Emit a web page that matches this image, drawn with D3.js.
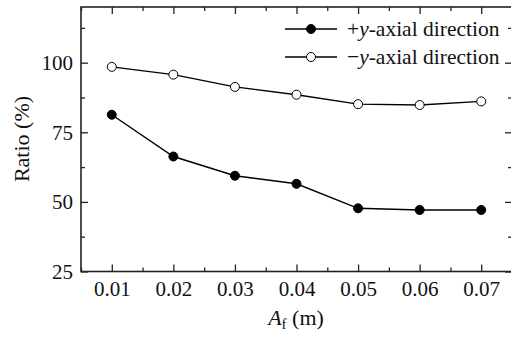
<!DOCTYPE html>
<html>
<head>
<meta charset="utf-8">
<script src="https://cdn.jsdelivr.net/npm/d3@7"></script>
</head>
<body style="margin:0">
<svg id="chart" width="511" height="338" style="font-family: 'Liberation Serif', 'Times New Roman', Tinos, serif"></svg>
<script>
// data
const afValues = [0.01, 0.02, 0.03, 0.04, 0.05, 0.06, 0.07];
const plusY = [81.3, 66.3, 59.4, 56.5, 47.7, 47.1, 47.1];
const minusY = [98.5, 95.7, 91.3, 88.5, 85.1, 84.8, 86.1];
const yTicks = [25, 50, 75, 100];
const yMinor = [37.5, 62.5, 87.5, 112.5];
const xMinor = [0.005, 0.015, 0.025, 0.035, 0.045, 0.055, 0.065, 0.075];

const width = 511, height = 338;
const margin = {top: 7, right: -1, bottom: 66.5, left: 81};
const svg = d3.select("#chart");

const x = d3.scaleLinear().domain([0.005, 0.075]).range([margin.left, width - margin.right]);
const y = d3.scaleLinear().domain([25, 120]).range([height - margin.bottom, margin.top]);
const x0 = margin.left, x1 = width - margin.right;
const y0 = height - margin.bottom, y1 = margin.top;

const axisColor = "#222";

// major + minor ticks on all four sides, pointing inward
function styleAxis(g) {
  g.attr("font-family", null).attr("font-size", null);
  g.select(".domain").remove();
  g.selectAll("line").attr("stroke", axisColor).attr("stroke-width", 1.3);
  g.selectAll("text").style("font-size", "21px").attr("fill", "#111");
}

svg.append("g").attr("transform", `translate(0,${y0})`)
  .call(d3.axisBottom(x).tickValues(afValues).tickFormat(d3.format(".2f")).tickSize(-7).tickPadding(10))
  .call(styleAxis);
svg.append("g").attr("transform", `translate(0,${y0})`)
  .call(d3.axisBottom(x).tickValues(xMinor).tickFormat("").tickSize(-4))
  .call(styleAxis);
svg.append("g").attr("transform", `translate(0,${y1})`)
  .call(d3.axisTop(x).tickValues(afValues).tickFormat("").tickSize(-7))
  .call(styleAxis);
svg.append("g").attr("transform", `translate(0,${y1})`)
  .call(d3.axisTop(x).tickValues(xMinor).tickFormat("").tickSize(-4))
  .call(styleAxis);

svg.append("g").attr("transform", `translate(${x0},0)`)
  .call(d3.axisLeft(y).tickValues(yTicks).tickSize(-7).tickPadding(8))
  .call(styleAxis);
svg.append("g").attr("transform", `translate(${x0},0)`)
  .call(d3.axisLeft(y).tickValues(yMinor).tickFormat("").tickSize(-4))
  .call(styleAxis);
svg.append("g").attr("transform", `translate(${x1},0)`)
  .call(d3.axisRight(y).tickValues(yTicks).tickFormat("").tickSize(-7))
  .call(styleAxis);
svg.append("g").attr("transform", `translate(${x1},0)`)
  .call(d3.axisRight(y).tickValues(yMinor).tickFormat("").tickSize(-4))
  .call(styleAxis);

// frame
svg.append("rect")
  .attr("x", x0).attr("y", y1)
  .attr("width", x1 - x0).attr("height", y0 - y1)
  .attr("fill", "none").attr("stroke", axisColor).attr("stroke-width", 1.6);

// series
const series = [
  {name: "+", values: plusY, fill: "#000"},
  {name: "\u2212", values: minusY, fill: "#fff"}
];

const line = d3.line()
  .x((d, i) => x(afValues[i]))
  .y(d => y(d));

series.forEach(s => {
  svg.append("path")
    .datum(s.values)
    .attr("fill", "none")
    .attr("stroke", "#000")
    .attr("stroke-width", 1.4)
    .attr("d", line);
  svg.append("g").selectAll("circle")
    .data(s.values)
    .join("circle")
    .attr("cx", (d, i) => x(afValues[i]))
    .attr("cy", d => y(d))
    .attr("r", 4.5)
    .attr("fill", s.fill)
    .attr("stroke", "#000")
    .attr("stroke-width", 1);
});

// legend
const legend = svg.append("g");
series.forEach((s, i) => {
  const ly = 29 + i * 28;
  legend.append("line")
    .attr("x1", 285).attr("x2", 337)
    .attr("y1", ly).attr("y2", ly)
    .attr("stroke", "#000").attr("stroke-width", 1.4);
  legend.append("circle")
    .attr("cx", 311).attr("cy", ly).attr("r", 4.5)
    .attr("fill", s.fill).attr("stroke", "#000").attr("stroke-width", 1);
  const t = legend.append("text")
    .attr("x", 347).attr("y", ly + 7)
    .style("font-size", "21.5px")
    .attr("fill", "#111");
  t.append("tspan").text(s.name);
  t.append("tspan").style("font-style", "italic").text("y");
  t.append("tspan").text("-axial direction");
});

// axis titles
const xt = svg.append("text")
  .attr("x", 296).attr("y", 325)
  .attr("text-anchor", "middle")
  .style("font-size", "22px")
  .attr("fill", "#111");
xt.append("tspan").style("font-style", "italic").text("A");
xt.append("tspan").style("font-size", "15px").attr("dy", 4).text("f");
xt.append("tspan").attr("dy", -4).text(" (m)");

svg.append("text")
  .attr("transform", "translate(29,139) rotate(-90)")
  .attr("text-anchor", "middle")
  .style("font-size", "22px")
  .attr("fill", "#111")
  .text("Ratio (%)");
</script>
</body>
</html>
